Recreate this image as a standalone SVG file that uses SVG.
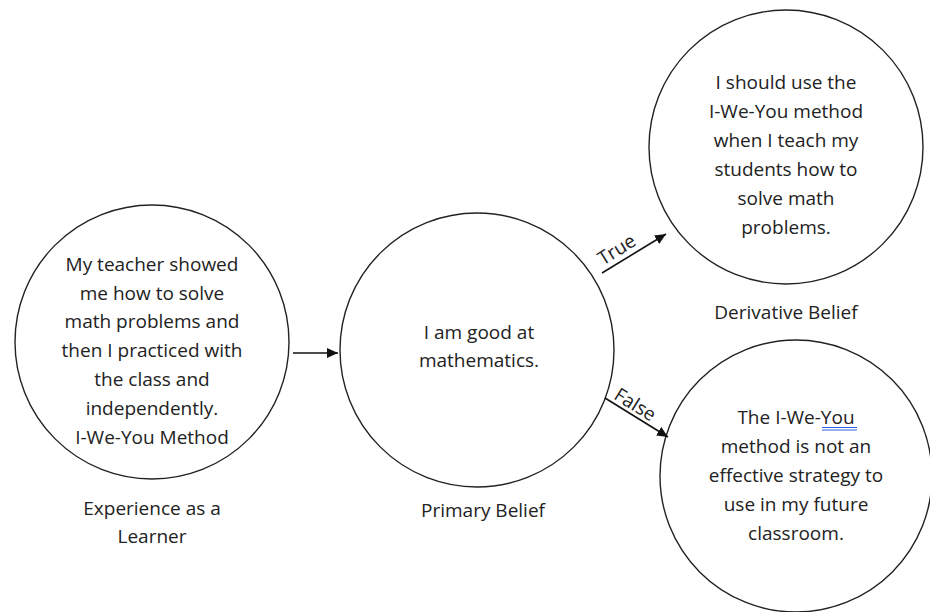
<svg xmlns="http://www.w3.org/2000/svg" width="930" height="612" viewBox="0 0 930 612">
  <defs>
    <marker id="arrow" markerWidth="12" markerHeight="10" refX="11" refY="5" orient="auto" markerUnits="userSpaceOnUse">
      <path d="M0,0 L11,5 L0,10 Z" fill="#111"/>
    </marker>
    <style>
      .node { fill: #fff; stroke: #222; stroke-width: 1.4; }
      .txt { font-family: "Open Sans", "Noto Sans", sans-serif; font-size: 19px; fill: #222; text-anchor: middle; }
      .edge { stroke: #111; stroke-width: 1.6; fill: none; marker-end: url(#arrow); }
      .spell { stroke: #3060e0; stroke-width: 1.1; }
    </style>
  </defs>
  <rect width="930" height="612" fill="#fff"/>

  <!-- Experience as a learner -->
  <g id="experience">
    <circle class="node" cx="152" cy="342" r="137"/>
    <text class="txt" x="152" y="271">My teacher showed</text>
    <text class="txt" x="152" y="300">me how to solve</text>
    <text class="txt" x="152" y="328">math problems and</text>
    <text class="txt" x="152" y="357">then I practiced with</text>
    <text class="txt" x="152" y="386">the class and</text>
    <text class="txt" x="152" y="415">independently.</text>
    <text class="txt" x="152" y="444">I-We-You Method</text>
    <text class="txt" x="152" y="515">Experience as a</text>
    <text class="txt" x="152" y="543">Learner</text>
  </g>

  <!-- Primary belief -->
  <g id="primary">
    <circle class="node" cx="477" cy="350" r="137"/>
    <text class="txt" x="479" y="339">I am good at</text>
    <text class="txt" x="479" y="367">mathematics.</text>
    <text class="txt" x="483" y="517">Primary Belief</text>
  </g>

  <!-- Derivative belief -->
  <g id="derivative">
    <circle class="node" cx="786" cy="147" r="137"/>
    <text class="txt" x="786" y="89">I should use the</text>
    <text class="txt" x="786" y="118">I-We-You method</text>
    <text class="txt" x="786" y="147">when I teach my</text>
    <text class="txt" x="786" y="176">students how to</text>
    <text class="txt" x="786" y="205">solve math</text>
    <text class="txt" x="786" y="234">problems.</text>
    <text class="txt" x="786" y="319">Derivative Belief</text>
  </g>

  <!-- Alternative belief -->
  <g id="alternative">
    <circle class="node" cx="796" cy="476" r="136"/>
    <text class="txt" x="796" y="424">The I-We-You</text>
    <line class="spell" x1="822" y1="427.5" x2="857" y2="427.5"/>
    <line class="spell" x1="822" y1="430" x2="857" y2="430"/>
    <text class="txt" x="796" y="453">method is not an</text>
    <text class="txt" x="796" y="482">effective strategy to</text>
    <text class="txt" x="796" y="511">use in my future</text>
    <text class="txt" x="796" y="540">classroom.</text>
  </g>

  <!-- Connectors -->
  <g id="connectors">
    <line class="edge" x1="293" y1="353" x2="338" y2="353"/>
    <line class="edge" x1="602" y1="273" x2="666" y2="234"/>
    <line class="edge" x1="605" y1="398" x2="668" y2="437"/>
    <text class="txt" x="617" y="256" transform="rotate(-31.8 617 250)">True</text>
    <text class="txt" x="635" y="411" transform="rotate(31.8 635 405)">False</text>
  </g>
</svg>
